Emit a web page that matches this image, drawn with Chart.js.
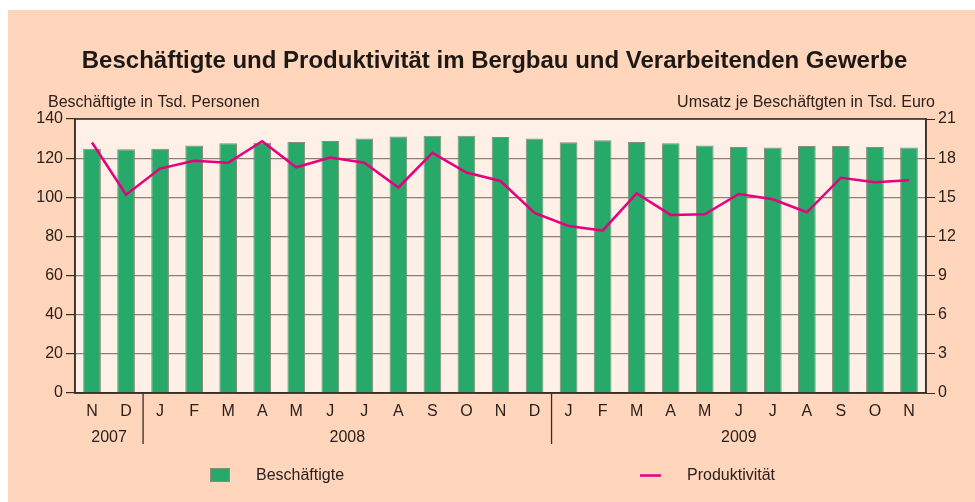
<!DOCTYPE html>
<html>
<head>
<meta charset="utf-8">
<script src="https://cdn.jsdelivr.net/npm/chart.js@4.4.1/dist/chart.umd.min.js"></script>
<style>
  html, body { margin: 0; padding: 0; background: #ffffff; }
  #wrap { position: absolute; left: 0; top: 0; width: 975px; height: 502px; }
</style>
</head>
<body>
<div id="wrap"><canvas id="c" width="975" height="502"></canvas></div>
<script>
const months = ['N','D','J','F','M','A','M','J','J','A','S','O','N','D','J','F','M','A','M','J','J','A','S','O','N'];
const years = [
  { label: '2007', from: 0, to: 1 },
  { label: '2008', from: 2, to: 13 },
  { label: '2009', from: 14, to: 24 }
];
const beschaeftigte = [124.8,124.5,124.8,126.4,127.6,127.9,128.3,128.8,130.0,131.0,131.5,131.5,130.8,130.0,128.1,129.1,128.3,127.6,126.4,125.7,125.5,126.2,126.2,125.7,125.5];
const produktivitaet = [19.2,15.2,17.2,17.8,17.65,19.3,17.3,18.05,17.65,15.75,18.4,16.9,16.25,13.8,12.8,12.45,15.3,13.65,13.7,15.25,14.85,13.85,16.5,16.15,16.3];
const leftTicks = [0,20,40,60,80,100,120,140];
const rightTicks = [0,3,6,9,12,15,18,21];

const BG = '#FFD5BC';
const PLOT_BG = '#FEF0E6';
const GREEN = '#27A96A';
const MAGENTA = '#E6007E';
const DARK = '#3a2c24';
const TXT = '#2a211c';
const FONT = "'Liberation Sans', Arial, sans-serif";

const decor = {
  id: 'decor',
  beforeDraw(chart) {
    const ctx = chart.ctx;
    const a = chart.chartArea;
    ctx.save();
    ctx.fillStyle = '#ffffff';
    ctx.fillRect(0, 0, chart.width, chart.height);
    ctx.fillStyle = BG;
    ctx.fillRect(8, 10, chart.width - 8, chart.height - 10);
    ctx.fillStyle = PLOT_BG;
    ctx.fillRect(a.left, a.top, a.right - a.left, a.bottom - a.top);
    ctx.restore();
  },
  afterDraw(chart) {
    const ctx = chart.ctx;
    const a = chart.chartArea;
    const x = chart.scales.x;
    const barDs = chart.data.datasets.find(d => d.type === 'bar');
    const lineDs = chart.data.datasets.find(d => d.type === 'line');
    ctx.save();
    // plot border
    ctx.strokeStyle = DARK;
    ctx.lineWidth = 1.5;
    ctx.strokeRect(a.left, a.top, a.right - a.left, a.bottom - a.top);
    // axis titles
    ctx.fillStyle = TXT;
    ctx.font = '16px ' + FONT;
    ctx.textBaseline = 'alphabetic';
    ctx.textAlign = 'left';
    ctx.fillText('Beschäftigte in Tsd. Personen', 48, 107);
    ctx.textAlign = 'right';
    ctx.fillText('Umsatz je Beschäftgten in Tsd. Euro', 935, 107);
    // year labels and separators
    ctx.font = '16px ' + FONT;
    ctx.textAlign = 'center';
    ctx.textBaseline = 'middle';
    years.forEach(function (y) {
      const cx = (x.getPixelForValue(y.from) + x.getPixelForValue(y.to)) / 2;
      ctx.fillText(y.label, cx, 438);
    });
    ctx.strokeStyle = DARK;
    ctx.lineWidth = 1.3;
    years.slice(1).forEach(function (y) {
      const sx = (x.getPixelForValue(y.from - 1) + x.getPixelForValue(y.from)) / 2;
      ctx.beginPath();
      ctx.moveTo(sx, a.bottom);
      ctx.lineTo(sx, 444);
      ctx.stroke();
    });
    // legend
    ctx.fillStyle = GREEN;
    ctx.fillRect(210, 468, 20, 14);
    ctx.strokeStyle = '#8a8a7a';
    ctx.lineWidth = 1;
    ctx.strokeRect(210.5, 468.5, 19, 13);
    ctx.fillStyle = TXT;
    ctx.font = '16px ' + FONT;
    ctx.textAlign = 'left';
    ctx.textBaseline = 'middle';
    ctx.fillText(barDs.label, 256, 476);
    ctx.strokeStyle = MAGENTA;
    ctx.lineWidth = 2.5;
    ctx.beginPath();
    ctx.moveTo(640, 475.5);
    ctx.lineTo(661, 475.5);
    ctx.stroke();
    ctx.fillText(lineDs.label, 687, 476);
    ctx.restore();
  }
};

new Chart(document.getElementById('c'), {
  data: {
    labels: months,
    datasets: [
      {
        type: 'line',
        label: 'Produktivität',
        data: produktivitaet,
        yAxisID: 'y2',
        borderColor: MAGENTA,
        borderWidth: 2.5,
        pointRadius: 0,
        tension: 0,
        order: 0
      },
      {
        type: 'bar',
        label: 'Beschäftigte',
        data: beschaeftigte,
        yAxisID: 'y',
        backgroundColor: GREEN,
        borderColor: '#8a8a7a',
        borderWidth: 1,
        categoryPercentage: 1,
        barPercentage: 0.52,
        order: 1
      }
    ]
  },
  options: {
    responsive: false,
    animation: false,
    devicePixelRatio: 1,
    layout: { padding: { top: 0, bottom: 0, left: 14, right: 0 } },
    plugins: {
      legend: { display: false },
      tooltip: { enabled: false },
      title: {
        display: true,
        text: 'Beschäftigte und Produktivität im Bergbau und Verarbeitenden Gewerbe',
        color: '#1e1814',
        font: { family: FONT, size: 24, weight: 'bold', lineHeight: 1.2 },
        padding: { top: 47, bottom: 43.2 }
      }
    },
    scales: {
      x: {
        type: 'category',
        offset: true,
        grid: { display: false, drawTicks: false },
        border: { display: true, color: DARK, width: 1.5 },
        ticks: { color: TXT, font: { family: FONT, size: 16 }, padding: 9, autoSkip: false, maxRotation: 0 },
        afterFit(s) { s.height = 109; }
      },
      y: {
        position: 'left',
        min: 0, max: 140,
        afterBuildTicks(s) { s.ticks = leftTicks.map(v => ({ value: v })); },
        grid: {
          color: '#8a8078',
          lineWidth: 1.2,
          drawTicks: true,
          tickLength: 9,
          tickColor: DARK
        },
        border: { display: true, color: DARK, width: 1.5 },
        ticks: { color: TXT, font: { family: FONT, size: 16 }, padding: 3 },
        afterFit(s) { s.width = 61; }
      },
      y2: {
        position: 'right',
        min: 0, max: 21,
        afterBuildTicks(s) { s.ticks = rightTicks.map(v => ({ value: v })); },
        grid: {
          drawOnChartArea: false,
          drawTicks: true,
          tickLength: 9,
          tickColor: DARK
        },
        border: { display: true, color: DARK, width: 1.5 },
        ticks: { color: TXT, font: { family: FONT, size: 16 }, padding: 3 },
        afterFit(s) { s.width = 49; }
      }
    }
  },
  plugins: [decor]
});
</script>
</body>
</html>
